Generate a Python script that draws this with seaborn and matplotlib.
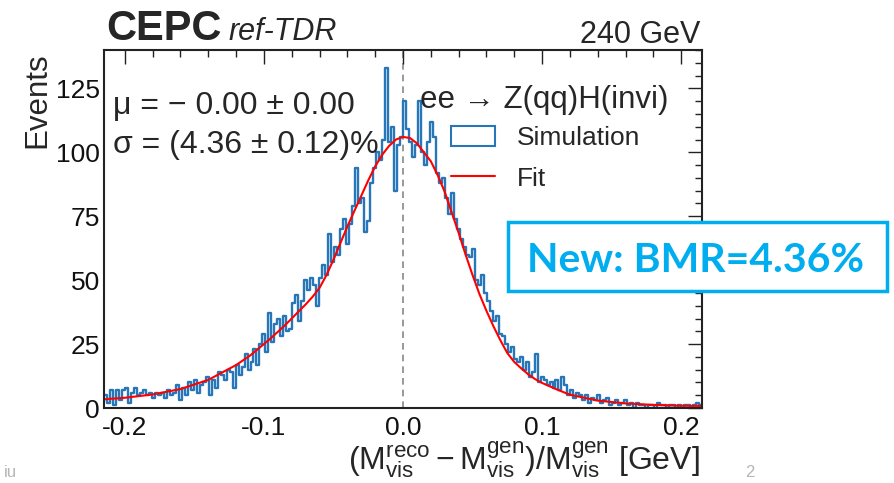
import numpy as np
import pandas as pd
import matplotlib
matplotlib.use("Agg")
import matplotlib.pyplot as plt
from matplotlib.patches import Patch, Rectangle
from matplotlib.lines import Line2D
from matplotlib.ticker import MultipleLocator, FormatStrFormatter
import seaborn as sns

# histogram range / binning
x_lo, x_hi, n_bins = -0.215, 0.215, 200

# events per bin (left to right)
counts = [
    5, 2, 7, 1, 7, 3, 7, 8, 2, 6,
    8, 5, 6, 7, 5, 6, 4, 6, 5, 6,
    4, 7, 5, 6, 9, 3, 8, 5, 10, 7,
    11, 6, 9, 10, 12, 5, 11, 8, 14, 13,
    11, 15, 14, 8, 17, 13, 16, 21, 15, 18,
    23, 17, 25, 29, 22, 37, 26, 33, 35, 28,
    36, 30, 31, 41, 44, 34, 42, 50, 46, 51,
    48, 40, 51, 56, 52, 68, 57, 63, 60, 70,
    74, 64, 72, 79, 94, 80, 82, 69, 73, 88,
    94, 100, 97, 105, 133, 104, 110, 85, 103, 106,
    120, 109, 104, 98, 103, 120, 100, 95, 104, 112,
    106, 92, 88, 90, 82, 76, 84, 74, 70, 66,
    63, 60, 59, 62, 50, 48, 52, 45, 42, 38,
    34, 36, 29, 28, 25, 22, 24, 19, 18, 20,
    15, 18, 12, 14, 21, 10, 12, 11, 9, 10,
    8, 11, 7, 12, 9, 5, 7, 4, 6, 5,
    3, 5, 2, 4, 3, 5, 2, 3, 4, 1,
    2, 3, 1, 2, 3, 1, 2, 0, 2, 1,
    1, 0, 1, 1, 0, 2, 1, 1, 0, 1,
    1, 0, 1, 0, 1, 1, 0, 1, 2, 1,
]

# fit curve
fit_x = [-0.215, -0.20, -0.18, -0.16, -0.14, -0.12, -0.11, -0.10, -0.095, -0.09,
         -0.085, -0.08, -0.075, -0.07, -0.065, -0.06, -0.055, -0.05, -0.045, -0.04,
         -0.035, -0.03, -0.025, -0.02, -0.015, -0.01, -0.005, 0.0, 0.005, 0.01,
         0.015, 0.02, 0.025, 0.03, 0.035, 0.04, 0.045, 0.05, 0.055, 0.06,
         0.065, 0.07, 0.075, 0.08, 0.085, 0.09, 0.095, 0.10, 0.11, 0.12,
         0.14, 0.16, 0.18, 0.20, 0.215]
fit_y = [3.4, 4.0, 5.3, 7.4, 11.0, 16.8, 20.5, 25.0, 27.3, 29.8,
         32.3, 35.0, 37.8, 40.5, 43.5, 47.0, 52.0, 58.0, 64.5, 71.0,
         77.0, 83.0, 89.0, 94.5, 99.0, 102.5, 105.0, 106.0, 105.6, 103.5,
         100.0, 96.5, 91.0, 84.5, 76.5, 68.5, 60.0, 52.0, 44.5, 38.0,
         32.0, 26.5, 21.5, 18.0, 15.5, 13.2, 11.3, 9.8, 7.4, 5.2,
         2.9, 1.8, 1.2, 0.9, 0.8]

hist_blue = '#2676b8'
box_blue = '#00aeef'

sns.set_theme(style="white")
plt.rcParams['font.family'] = ['Liberation Sans', 'DejaVu Sans']
plt.rcParams['mathtext.fontset'] = 'custom'
plt.rcParams['mathtext.rm'] = 'Liberation Sans'
plt.rcParams['mathtext.it'] = 'Liberation Sans:italic'
plt.rcParams['mathtext.bf'] = 'Liberation Sans:bold'
plt.rcParams['axes.unicode_minus'] = False

W, H = 895, 483
fig = plt.figure(figsize=(W / 100, H / 100), dpi=100)
ax = fig.add_axes([104 / W, 1 - 408 / H, 598 / W, 358 / H])


def px(x, y):
    # pixel position -> figure fraction
    return x / W, 1 - y / H


bin_w = (x_hi - x_lo) / n_bins
df = pd.DataFrame({'x': x_lo + bin_w * (np.arange(n_bins) + 0.5), 'n': counts})
sns.histplot(data=df, x='x', weights='n', bins=n_bins, binrange=(x_lo, x_hi),
             element='step', fill=False, color=hist_blue, linewidth=1.7, ax=ax)
sns.lineplot(x=fit_x, y=fit_y, color='red', linewidth=1.5, sort=False, ax=ax)
ax.axvline(0, color='#888888', linestyle=(0, (4, 3)), linewidth=1.2, zorder=0)

ax.set_xlim(x_lo, x_hi)
ax.set_ylim(0, 140)
ax.set_xlabel('')
ax.set_ylabel('')
ax.xaxis.set_major_locator(MultipleLocator(0.1))
ax.xaxis.set_minor_locator(MultipleLocator(0.02))
ax.xaxis.set_major_formatter(FormatStrFormatter('%.1f'))
ax.yaxis.set_major_locator(MultipleLocator(25))
ax.yaxis.set_minor_locator(MultipleLocator(5))
ax.tick_params(which='both', direction='in', top=True, right=True, color='#222222',
               labelsize=19, labelcolor='#111111')
ax.tick_params(which='major', length=10, width=1)
ax.tick_params(which='minor', length=5, width=1)
ax.tick_params(axis='x', pad=6)
ax.tick_params(axis='y', pad=3)
for s in ax.spines.values():
    s.set_linewidth(1.5)
    s.set_color('#222222')

# fit results and process label
fig.text(*px(113, 114), 'μ = − 0.00 ± 0.00', fontsize=23, va='baseline')
fig.text(*px(113, 153), 'σ = (4.36 ± 0.12)%', fontsize=23, va='baseline')
fig.text(*px(420, 108), 'ee → Z(qq)H(invi)', fontsize=22.5, va='baseline')

handles = [Patch(facecolor='white', edgecolor=hist_blue, linewidth=1.5, label='Simulation'),
           Line2D([], [], color='red', linewidth=1.5, label='Fit')]
ax.legend(handles=handles, loc='upper left',
          bbox_to_anchor=((451 - 104) / 598, (408 - 126) / 358),
          frameon=False, fontsize=19, handlelength=1.65, handleheight=0.8,
          handletextpad=0.85, labelspacing=0.62, borderpad=0, borderaxespad=0)

# header
fig.text(*px(106, 40), 'CEPC', fontsize=30, fontweight='bold', va='baseline')
fig.text(*px(229, 40), 'ref-TDR', fontsize=22, style='italic', va='baseline')
fig.text(*px(700, 43), '240 GeV', fontsize=22, ha='right', va='baseline')

# axis titles
fig.text(*px(37, 52), 'Events', fontsize=22.5, rotation=90, ha='center', va='top')
fig.text(*px(700, 470),
         r'$(\mathrm{M}^{\mathrm{reco}}_{\mathrm{vis}} - \mathrm{M}^{\mathrm{gen}}_{\mathrm{vis}})'
         r'/\mathrm{M}^{\mathrm{gen}}_{\mathrm{vis}}$ [GeV]',
         fontsize=23, ha='right', va='baseline')

# slide annotation box
fig.patches.append(Rectangle(px(508, 291), (887 - 508) / W, (291 - 222) / H,
                             transform=fig.transFigure, facecolor='white',
                             edgecolor=box_blue, linewidth=2.5, zorder=5))
fig.text(*px(696, 272), 'New: BMR=4.36%', fontsize=29.5, fontweight='bold',
         color=box_blue, ha='center', va='baseline', zorder=6,
         family=['Lato', 'DejaVu Sans'])

# slide leftovers
fig.text(*px(4, 477), 'iu', fontsize=12, color='#b5b5b5', va='baseline')
fig.text(*px(745, 477), '2', fontsize=12, color='#b5b5b5', va='baseline')

plt.savefig('out.png', dpi=100)
